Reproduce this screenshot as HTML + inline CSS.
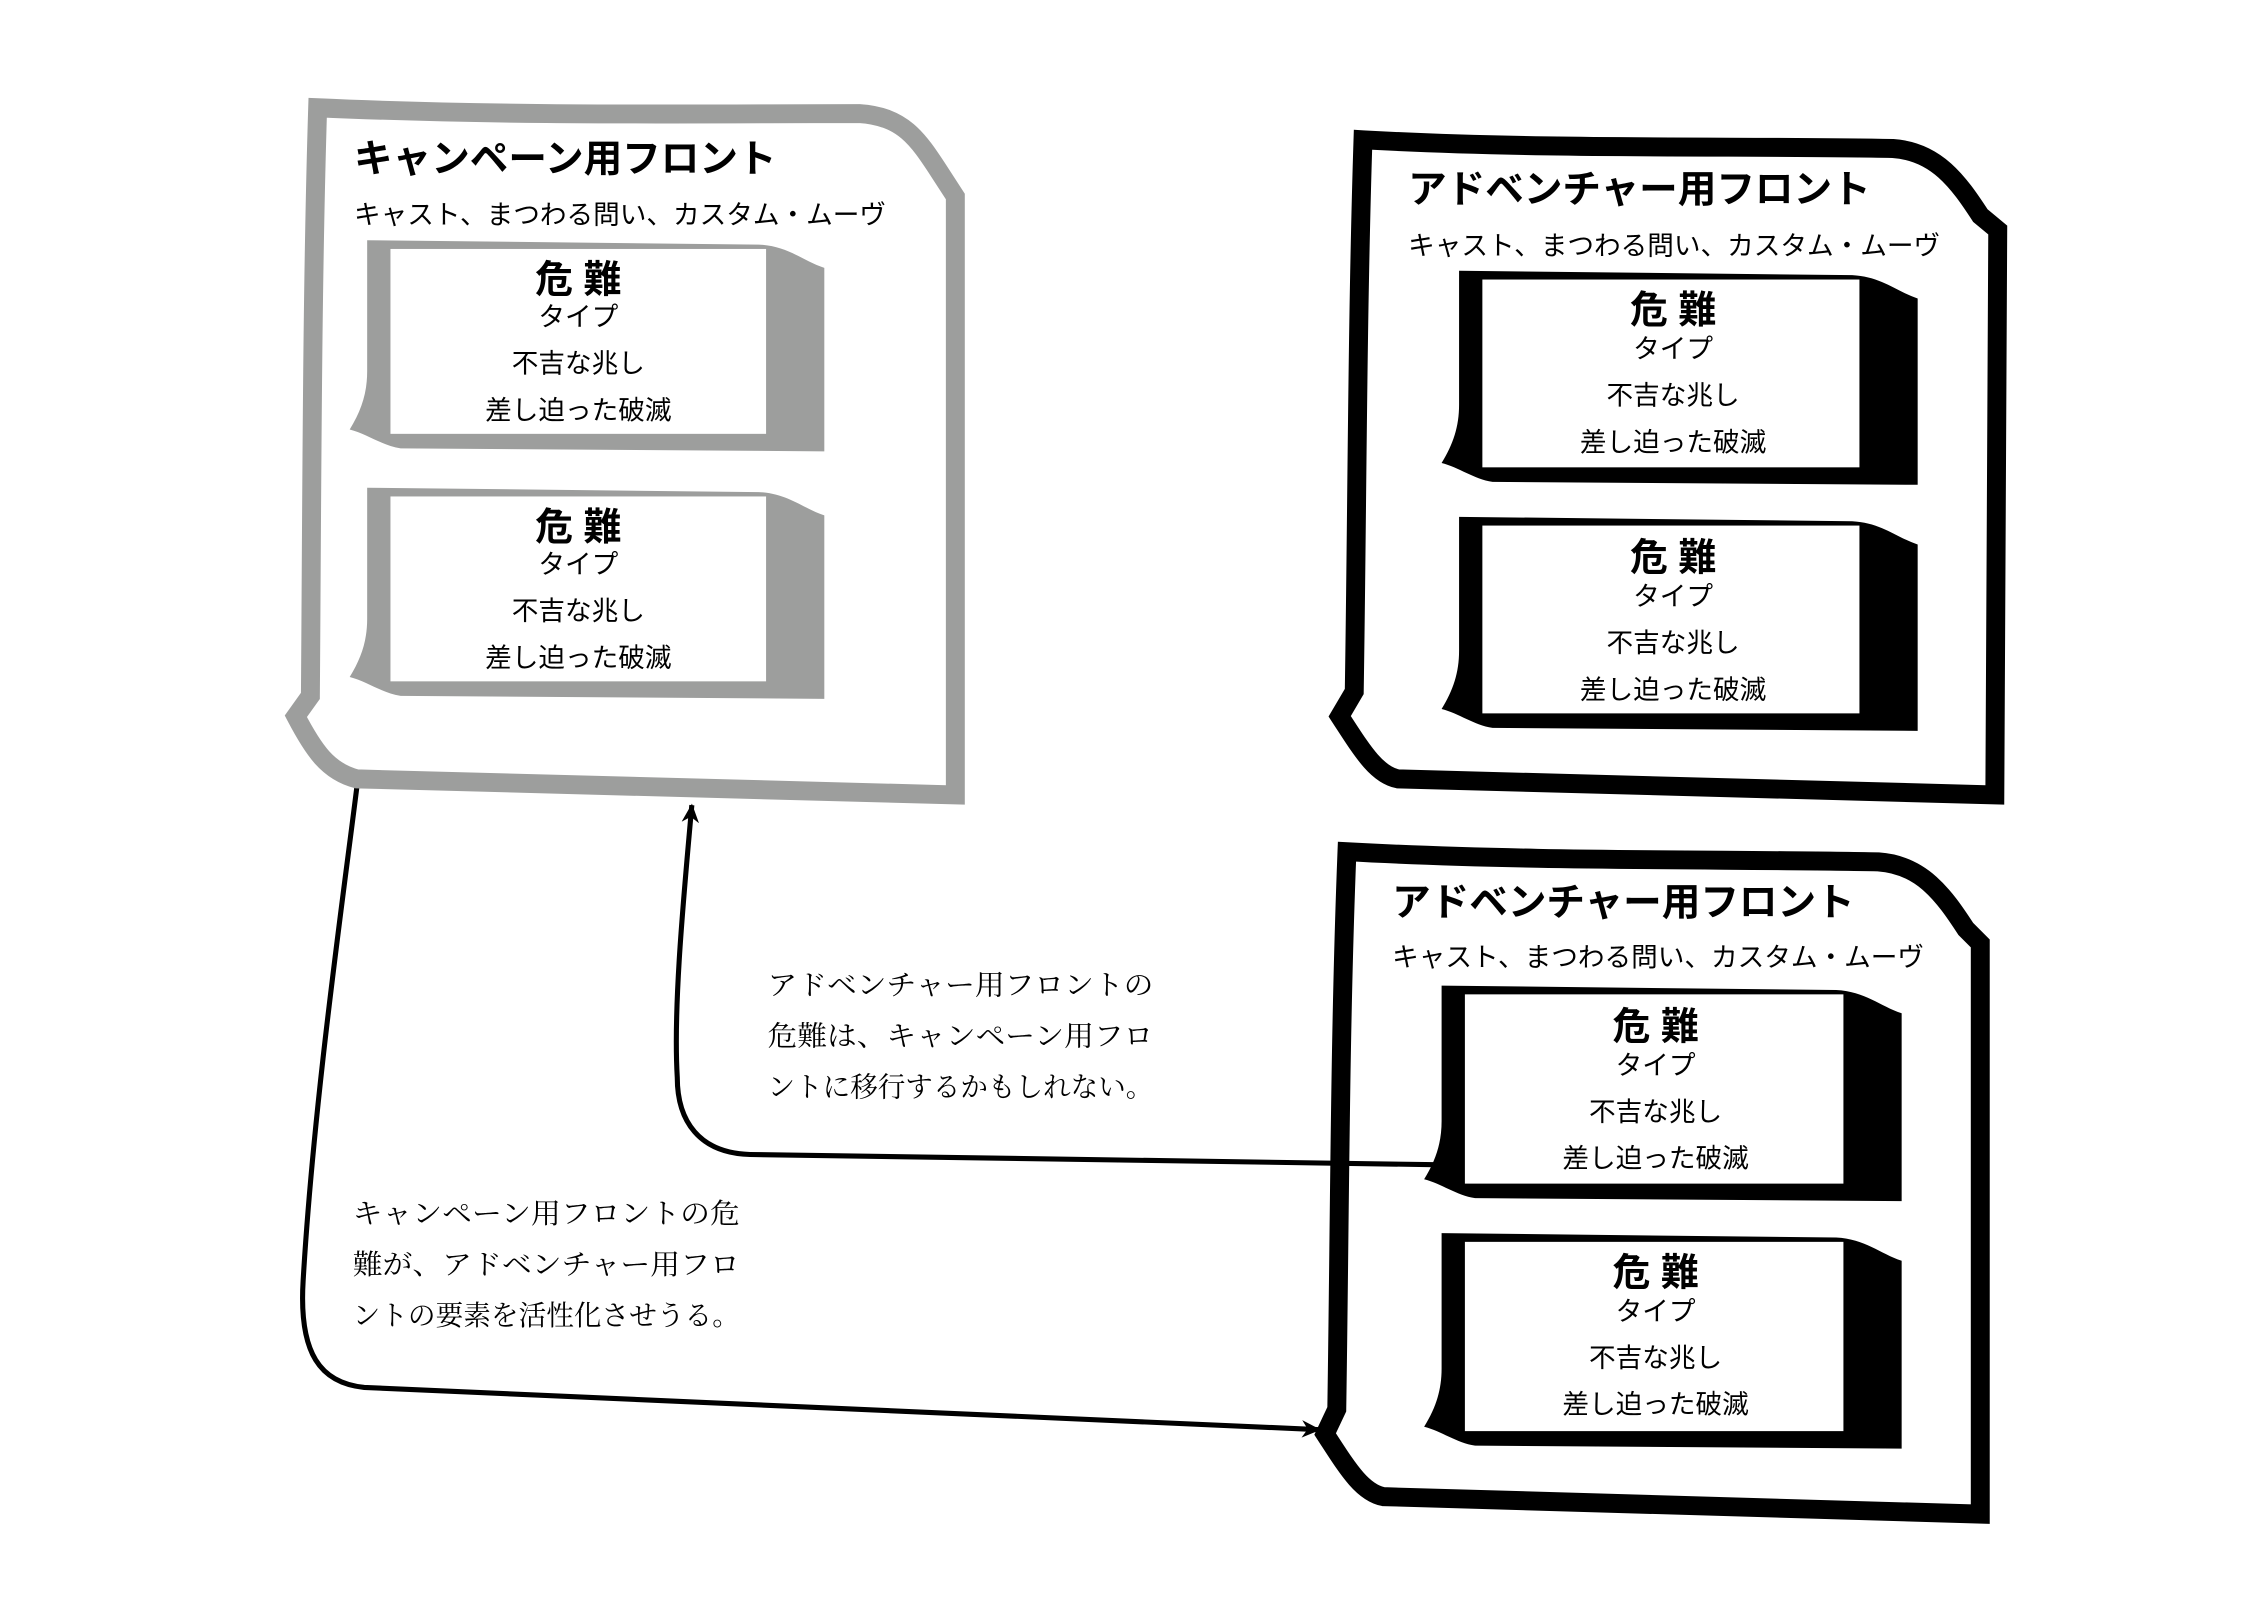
<!DOCTYPE html>
<html><head><meta charset="utf-8"><style>
html,body{margin:0;padding:0;background:#fff;}
svg{display:block;}
.t{font-family:"Liberation Sans","Noto Sans CJK JP",sans-serif;font-weight:bold;font-size:26.5px;fill:#000;}
.s{font-family:"Liberation Sans","Noto Sans CJK JP",sans-serif;font-size:18.3px;fill:#000;}
.h{font-family:"Liberation Sans","Noto Sans CJK JP",sans-serif;font-weight:bold;font-size:26px;fill:#000;text-anchor:middle;}
.c{font-family:"Liberation Sans","Noto Sans CJK JP",sans-serif;font-size:18.3px;fill:#000;text-anchor:middle;}
.m{font-family:"Liberation Serif","Noto Serif CJK JP",serif;font-size:19px;fill:#000;}
</style></head><body>
<svg width="2263" height="1600" viewBox="0 0 1554 1099" xmlns="http://www.w3.org/2000/svg">
<defs>
<marker id="ar" markerWidth="14" markerHeight="12" refX="12" refY="6" orient="auto" markerUnits="userSpaceOnUse">
<path d="M0,0 L13,6 L0,12 L4,6 Z" fill="#000"/>
</marker>
</defs>
<rect width="1554" height="1099" fill="#fff"/>

<path d="M245 540 C235 620 215 760 208 880 C205 930 220 950 250 953 L906 982" fill="none" stroke="#000" stroke-width="3.5" marker-end="url(#ar)"/>
<path d="M985 800 L515 793 C480 792 465 770 465 740 C462 690 470 610 475 553" fill="none" stroke="#000" stroke-width="3.5" marker-end="url(#ar)"/>

<path d="M218 74 C350 80 480 78 590 78 C620 80 630 95 645 118 L656 135 L656 546 L245 535 C225 530 215 515 203 492 L213 478 C214 350 214 200 218 74 Z" fill="#fff" stroke="#9d9e9d" stroke-width="13"/>
<text class="t" x="243" y="118">キャンペーン用フロント</text>
<text class="s" x="243" y="154">キャスト、まつわる問い、カスタム・ムーヴ</text>
<path d="M252 165 L521 168 C541 169 551 179 566 184 L566 310 L275 308 C262 306 252 298 240 295 C248 282 252 270 252 255 Z" fill="#9d9e9d"/>
<rect x="268" y="171" width="258" height="127" fill="#fff"/>
<text class="h" x="397" y="201">危 難</text>
<text class="c" x="397" y="224">タイプ</text>
<text class="c" x="397" y="256">不吉な兆し</text>
<text class="c" x="397" y="288">差し迫った破滅</text>
<path d="M252 335 L521 338 C541 339 551 349 566 354 L566 480 L275 478 C262 476 252 468 240 465 C248 452 252 440 252 425 Z" fill="#9d9e9d"/>
<rect x="268" y="341" width="258" height="127" fill="#fff"/>
<text class="h" x="397" y="371">危 難</text>
<text class="c" x="397" y="394">タイプ</text>
<text class="c" x="397" y="426">不吉な兆し</text>
<text class="c" x="397" y="458">差し迫った破滅</text>

<path d="M936 96 C1060 103 1200 100 1300 102 C1330 104 1345 125 1360 148 L1372 158 L1370 546 L960 535 C945 532 935 515 920 492 L930 475 C932 350 932 220 936 96 Z" fill="#fff" stroke="#000" stroke-width="13"/>
<text class="t" x="967" y="139">アドベンチャー用フロント</text>
<text class="s" x="967" y="175">キャスト、まつわる問い、カスタム・ムーヴ</text>
<path d="M1002 186 L1272 189 C1292 190 1302 200 1317 205 L1317 333 L1025 331 C1012 329 1002 321 990 318 C998 305 1002 293 1002 278 Z" fill="#000"/>
<rect x="1018" y="192" width="259" height="129" fill="#fff"/>
<text class="h" x="1149" y="222">危 難</text>
<text class="c" x="1149" y="246">タイプ</text>
<text class="c" x="1149" y="278">不吉な兆し</text>
<text class="c" x="1149" y="310">差し迫った破滅</text>
<path d="M1002 355 L1272 358 C1292 359 1302 369 1317 374 L1317 502 L1025 500 C1012 498 1002 490 990 487 C998 474 1002 462 1002 447 Z" fill="#000"/>
<rect x="1018" y="361" width="259" height="129" fill="#fff"/>
<text class="h" x="1149" y="392">危 難</text>
<text class="c" x="1149" y="416">タイプ</text>
<text class="c" x="1149" y="448">不吉な兆し</text>
<text class="c" x="1149" y="480">差し迫った破滅</text>

<path d="M925 585 C1050 592 1190 590 1290 592 C1320 594 1335 615 1350 638 L1360 648 L1360 1040 L950 1028 C935 1025 925 1008 910 985 L918 968 C920 840 920 710 925 585 Z" fill="none" stroke="#000" stroke-width="13"/>
<text class="t" x="956" y="629">アドベンチャー用フロント</text>
<text class="s" x="956" y="664">キャスト、まつわる問い、カスタム・ムーヴ</text>
<path d="M990 677 L1261 680 C1281 681 1291 691 1306 696 L1306 825 L1013 823 C1000 821 990 813 978 810 C986 797 990 785 990 770 Z" fill="#000"/>
<rect x="1006" y="683" width="260" height="130" fill="#fff"/>
<text class="h" x="1137" y="714">危 難</text>
<text class="c" x="1137" y="738">タイプ</text>
<text class="c" x="1137" y="770">不吉な兆し</text>
<text class="c" x="1137" y="802">差し迫った破滅</text>
<path d="M990 847 L1261 850 C1281 851 1291 861 1306 866 L1306 995 L1013 993 C1000 991 990 983 978 980 C986 967 990 955 990 940 Z" fill="#000"/>
<rect x="1006" y="853" width="260" height="130" fill="#fff"/>
<text class="h" x="1137" y="883">危 難</text>
<text class="c" x="1137" y="907">タイプ</text>
<text class="c" x="1137" y="939">不吉な兆し</text>
<text class="c" x="1137" y="971">差し迫った破滅</text>

<text class="m" x="527" y="683" textLength="265" lengthAdjust="spacingAndGlyphs">アドベンチャー用フロントの</text>
<text class="m" x="527" y="718" textLength="265" lengthAdjust="spacingAndGlyphs">危難は、キャンペーン用フロ</text>
<text class="m" x="527" y="753" textLength="265" lengthAdjust="spacingAndGlyphs">ントに移行するかもしれない。</text>
<text class="m" x="242" y="840" textLength="266" lengthAdjust="spacingAndGlyphs">キャンペーン用フロントの危</text>
<text class="m" x="242" y="875" textLength="266" lengthAdjust="spacingAndGlyphs">難が、アドベンチャー用フロ</text>
<text class="m" x="242" y="910" textLength="266" lengthAdjust="spacingAndGlyphs">ントの要素を活性化させうる。</text>
</svg>
</body></html>
